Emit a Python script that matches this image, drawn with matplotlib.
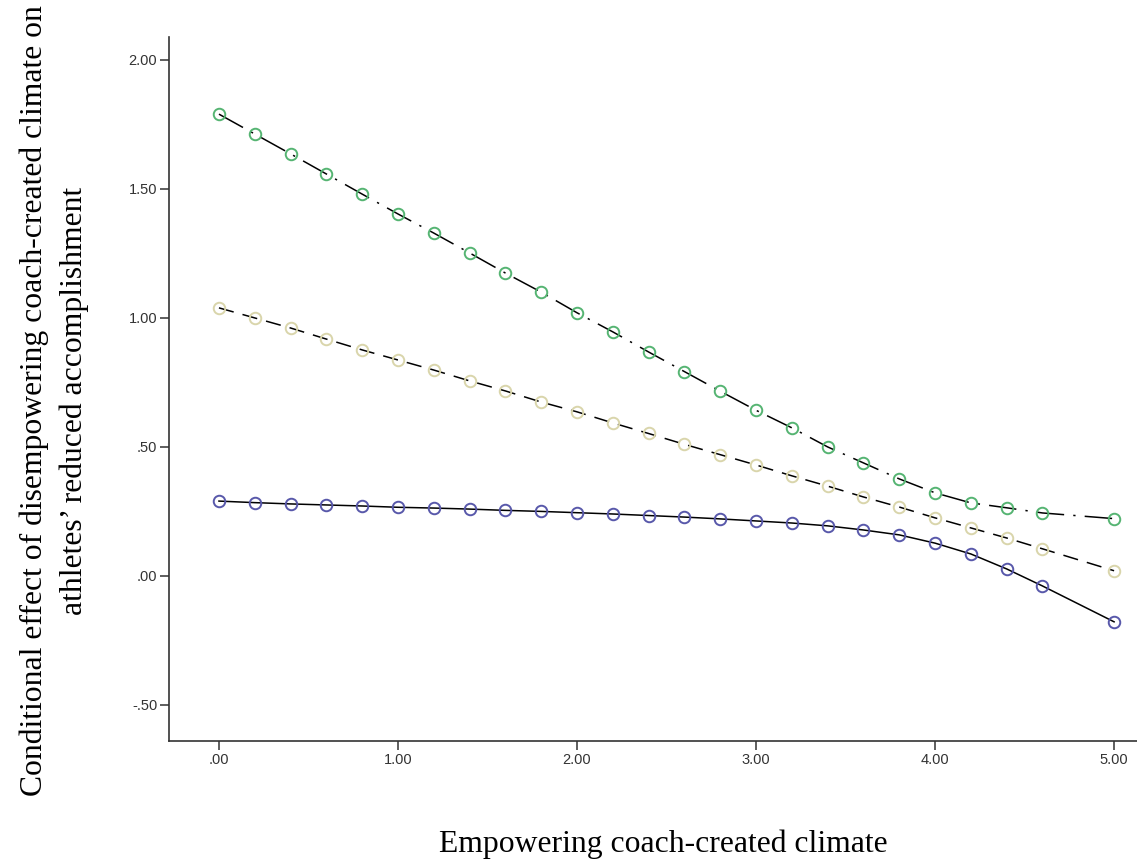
import matplotlib
matplotlib.use("Agg")
import matplotlib.pyplot as plt
from matplotlib.ticker import FuncFormatter

# x values (4.80 has no value in the chart)
x_vals = [0.0, 0.2, 0.4, 0.6, 0.8, 1.0, 1.2, 1.4, 1.6, 1.8, 2.0, 2.2,
          2.4, 2.6, 2.8, 3.0, 3.2, 3.4, 3.6, 3.8, 4.0, 4.2, 4.4, 4.6, 5.0]

# upper series (dash-dot, green markers)
high_vals = [1.79, 1.713, 1.636, 1.558, 1.48, 1.403, 1.329, 1.252, 1.174, 1.10,
             1.02, 0.946, 0.868, 0.792, 0.716, 0.642, 0.574, 0.50, 0.438, 0.376,
             0.322, 0.283, 0.264, 0.244, 0.222]

# middle series (dashed, beige markers)
mid_vals = [1.039, 1.0, 0.961, 0.918, 0.876, 0.837, 0.798, 0.756, 0.717, 0.674,
            0.636, 0.593, 0.552, 0.51, 0.47, 0.43, 0.388, 0.348, 0.306, 0.267,
            0.225, 0.186, 0.147, 0.105, 0.02]

# lower series (solid, blue markers)
low_vals = [0.290, 0.284, 0.279, 0.275, 0.271, 0.266, 0.263, 0.259, 0.254, 0.25,
            0.245, 0.24, 0.234, 0.228, 0.221, 0.213, 0.205, 0.194, 0.178, 0.159,
            0.127, 0.085, 0.027, -0.039, -0.178]

x_ticks = [0, 1, 2, 3, 4, 5]
y_ticks = [-0.5, 0.0, 0.5, 1.0, 1.5, 2.0]


def spss_fmt(v, pos):
    s = "%.2f" % v
    if s.startswith("0."):
        s = s[1:]
    elif s.startswith("-0."):
        s = "-" + s[2:]
    return s


fig = plt.figure(figsize=(11.37, 8.63), dpi=100)
ax = fig.add_axes([169 / 1137, 1 - 741 / 863, 1 - 169 / 1137, (741 - 37) / 863])

ax.plot(x_vals, high_vals, color="black", lw=1.1, ls=(0, (18, 6, 1.5, 6)),
        marker="o", ms=8.3, mfc="none", mec="#55b472", mew=1.4, zorder=3)
ax.plot(x_vals, mid_vals, color="black", lw=1.1, ls=(0, (10, 6)),
        marker="o", ms=8.3, mfc="none", mec="#d9d5ab", mew=1.4, zorder=3)
ax.plot(x_vals, low_vals, color="black", lw=1.1, ls="solid",
        marker="o", ms=8.3, mfc="none", mec="#5858aa", mew=1.4, zorder=3)

ax.set_xlim(-0.279, 5.128)
ax.set_ylim(-0.64, 2.089)
ax.set_xticks(x_ticks)
ax.set_yticks(y_ticks)
ax.xaxis.set_major_formatter(FuncFormatter(spss_fmt))
ax.yaxis.set_major_formatter(FuncFormatter(spss_fmt))

for side in ["top", "right"]:
    ax.spines[side].set_visible(False)
for side in ["left", "bottom"]:
    ax.spines[side].set_color("#333333")
    ax.spines[side].set_linewidth(1.2)

ax.tick_params(direction="out", length=6.5, width=1.1, color="#333333",
               labelsize=10.5, labelcolor="#333333", pad=2)
for lab in ax.get_xticklabels() + ax.get_yticklabels():
    lab.set_fontfamily("Liberation Sans")

fig.text(663 / 1137, 1 - 852 / 863, "Empowering coach-created climate",
         ha="center", va="baseline", fontsize=22.8, family="Liberation Serif")
fig.text(54 / 1137, 1 - 401 / 863,
         "Conditional effect of disempowering coach-created climate on\n"
         "athletes\u2019 reduced accomplishment",
         ha="center", va="center", rotation=90, multialignment="center",
         fontsize=22.8, family="Liberation Serif", linespacing=1.45)

fig.savefig("out.png", dpi=100)
